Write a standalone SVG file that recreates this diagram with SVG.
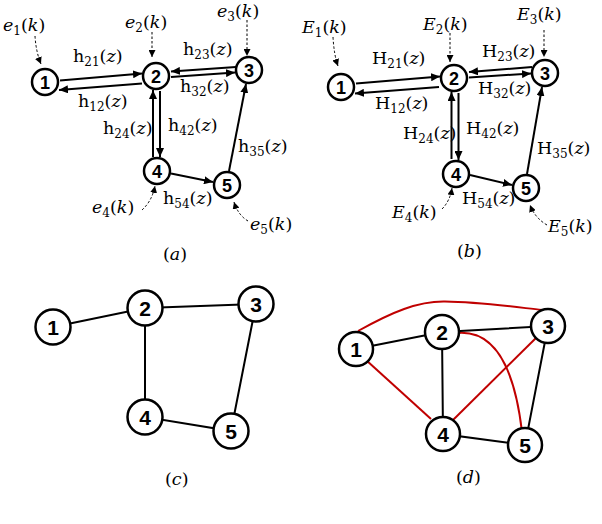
<svg xmlns="http://www.w3.org/2000/svg" width="602" height="524" viewBox="0 0 602 524">
<style>
.bg{fill:#fff}
.n circle{fill:#fff;stroke:#000;stroke-width:2.5}
.n text{font-family:"Liberation Sans",Arial,sans-serif;font-weight:bold;fill:#000;text-anchor:middle}
.sm text{font-size:18px}
.lg text{font-size:21px}
.e{fill:none;stroke:#000;stroke-width:2}
.d{fill:none;stroke:#000;stroke-width:1;stroke-dasharray:2.5,2}
.r{fill:none;stroke:#c00000;stroke-width:2}
.m{font-family:"DejaVu Serif","Liberation Serif",serif;font-size:17.5px;fill:#000}
.i{font-style:italic}
.s{font-size:12px}
</style>
<defs>
<marker id="ah" markerUnits="userSpaceOnUse" markerWidth="10" markerHeight="8" refX="9" refY="4" orient="auto"><path d="M0,0 L9,4 L0,8 Z" fill="#000"/></marker>
<marker id="ad" markerUnits="userSpaceOnUse" markerWidth="8" markerHeight="7" refX="7" refY="3.5" orient="auto"><path d="M0,0 L7,3.5 L0,7 Z" fill="#000"/></marker>
</defs>
<rect class="bg" width="602" height="524"/>

<g id="connectors">
<!-- panel a -->
<path class="e" d="M60,80.5 L142,73.5" marker-end="url(#ah)"/>
<path class="e" d="M142,83.5 L59,90" marker-end="url(#ah)"/>
<path class="e" d="M236,67 L171,71.5" marker-end="url(#ah)"/>
<path class="e" d="M171,77 L235,72.5" marker-end="url(#ah)"/>
<path class="e" d="M160,91 L160,157" marker-end="url(#ah)"/>
<path class="e" d="M153,157 L153,90" marker-end="url(#ah)"/>
<path class="e" d="M171,173.5 L213,182" marker-end="url(#ah)"/>
<path class="e" d="M229,171 L246,84" marker-end="url(#ah)"/>
<path class="d" d="M35,36 Q36,52 41,64" marker-end="url(#ad)"/>
<path class="d" d="M152,32 L152,57" marker-end="url(#ad)"/>
<path class="d" d="M247,20 L247,56" marker-end="url(#ad)"/>
<path class="d" d="M142,210 Q152,201 155,186" marker-end="url(#ad)"/>
<path class="d" d="M248,221 Q238,215 234,202" marker-end="url(#ad)"/>
<!-- panel b -->
<path class="e" d="M356,83.5 L440,76.5" marker-end="url(#ah)"/>
<path class="e" d="M439,87 L355,93.5" marker-end="url(#ah)"/>
<path class="e" d="M532,67 L469,72" marker-end="url(#ah)"/>
<path class="e" d="M469,77.5 L531,73.5" marker-end="url(#ah)"/>
<path class="e" d="M458.5,93 L458.5,160" marker-end="url(#ah)"/>
<path class="e" d="M451.5,159 L451.5,92" marker-end="url(#ah)"/>
<path class="e" d="M470,175 L512,185" marker-end="url(#ah)"/>
<path class="e" d="M527,174 L542,87" marker-end="url(#ah)"/>
<path class="d" d="M333,37 Q334,55 338,66" marker-end="url(#ad)"/>
<path class="d" d="M450,33 L450,62" marker-end="url(#ad)"/>
<path class="d" d="M544,30 L544,57" marker-end="url(#ad)"/>
<path class="d" d="M442,209 Q450,201 452,188" marker-end="url(#ad)"/>
<path class="d" d="M547,225 Q535,218 530,205" marker-end="url(#ad)"/>
<!-- panel c -->
<path class="e" d="M53,327 L145,308 L256,304 L231,431 L145,417 L145,308"/>
<!-- panel d -->
<path class="r" d="M358,331 C392,312 418,301 445,301.5 C480,302 515,307 542,310"/>
<path class="r" d="M366,360 L431,419"/>
<path class="r" d="M539,335 L452,421"/>
<path class="r" d="M458,333 C500,330 516,380 522,432"/>
<path class="e" d="M356,349 L442,332 L548,326 L525,445 L443,434 L442,332"/>
</g>

<g id="a1" class="n sm"><circle cx="45" cy="82" r="13"/><text x="45" y="88.5">1</text></g>
<g id="a2" class="n sm"><circle cx="156" cy="76" r="13"/><text x="156" y="82.5">2</text></g>
<g id="a3" class="n sm"><circle cx="249" cy="70" r="13"/><text x="249" y="76.5">3</text></g>
<g id="a4" class="n sm"><circle cx="157" cy="171" r="13"/><text x="157" y="177.5">4</text></g>
<g id="a5" class="n sm"><circle cx="227" cy="185" r="13"/><text x="227" y="191.5">5</text></g>

<g id="b1" class="n sm"><circle cx="341" cy="87" r="13"/><text x="341" y="93.5">1</text></g>
<g id="b2" class="n sm"><circle cx="454" cy="78" r="13"/><text x="454" y="84.5">2</text></g>
<g id="b3" class="n sm"><circle cx="545" cy="73" r="13"/><text x="545" y="79.5">3</text></g>
<g id="b4" class="n sm"><circle cx="456" cy="174" r="13"/><text x="456" y="180.5">4</text></g>
<g id="b5" class="n sm"><circle cx="526" cy="188" r="13"/><text x="526" y="194.5">5</text></g>

<g id="c1" class="n lg"><circle cx="53" cy="327" r="17.5"/><text x="53" y="334.5">1</text></g>
<g id="c2" class="n lg"><circle cx="145" cy="308" r="17.5"/><text x="145" y="315.5">2</text></g>
<g id="c3" class="n lg"><circle cx="256" cy="304" r="17.5"/><text x="256" y="311.5">3</text></g>
<g id="c4" class="n lg"><circle cx="145" cy="417" r="17.5"/><text x="145" y="424.5">4</text></g>
<g id="c5" class="n lg"><circle cx="231" cy="431" r="17.5"/><text x="231" y="438.5">5</text></g>

<g id="d1" class="n lg"><circle cx="356" cy="349" r="17"/><text x="356" y="356.5">1</text></g>
<g id="d2" class="n lg"><circle cx="442" cy="332" r="17"/><text x="442" y="339.5">2</text></g>
<g id="d3" class="n lg"><circle cx="548" cy="326" r="17"/><text x="548" y="333.5">3</text></g>
<g id="d4" class="n lg"><circle cx="443" cy="434" r="17"/><text x="443" y="441.5">4</text></g>
<g id="d5" class="n lg"><circle cx="525" cy="445" r="17"/><text x="525" y="452.5">5</text></g>

<g id="labels">
<text class="m" x="3" y="31"><tspan class="i">e</tspan><tspan class="s" dy="4">1</tspan><tspan dy="-4">(</tspan><tspan class="i">k</tspan>)</text>
<text class="m" x="125" y="28"><tspan class="i">e</tspan><tspan class="s" dy="4">2</tspan><tspan dy="-4">(</tspan><tspan class="i">k</tspan>)</text>
<text class="m" x="217" y="17"><tspan class="i">e</tspan><tspan class="s" dy="4">3</tspan><tspan dy="-4">(</tspan><tspan class="i">k</tspan>)</text>
<text class="m" x="92" y="213"><tspan class="i">e</tspan><tspan class="s" dy="4">4</tspan><tspan dy="-4">(</tspan><tspan class="i">k</tspan>)</text>
<text class="m" x="250" y="230"><tspan class="i">e</tspan><tspan class="s" dy="4">5</tspan><tspan dy="-4">(</tspan><tspan class="i">k</tspan>)</text>
<text class="m" x="73" y="62">h<tspan class="s" dy="4">21</tspan><tspan dy="-4">(</tspan><tspan class="i">z</tspan>)</text>
<text class="m" x="78" y="107">h<tspan class="s" dy="4">12</tspan><tspan dy="-4">(</tspan><tspan class="i">z</tspan>)</text>
<text class="m" x="183" y="55">h<tspan class="s" dy="4">23</tspan><tspan dy="-4">(</tspan><tspan class="i">z</tspan>)</text>
<text class="m" x="180" y="92">h<tspan class="s" dy="4">32</tspan><tspan dy="-4">(</tspan><tspan class="i">z</tspan>)</text>
<text class="m" x="103" y="134">h<tspan class="s" dy="4">24</tspan><tspan dy="-4">(</tspan><tspan class="i">z</tspan>)</text>
<text class="m" x="168" y="131">h<tspan class="s" dy="4">42</tspan><tspan dy="-4">(</tspan><tspan class="i">z</tspan>)</text>
<text class="m" x="238" y="152">h<tspan class="s" dy="4">35</tspan><tspan dy="-4">(</tspan><tspan class="i">z</tspan>)</text>
<text class="m" x="163" y="204">h<tspan class="s" dy="4">54</tspan><tspan dy="-4">(</tspan><tspan class="i">z</tspan>)</text>
<text class="m" x="163" y="260">(<tspan class="i">a</tspan>)</text>

<text class="m" x="302" y="33"><tspan class="i">E</tspan><tspan class="s" dy="4">1</tspan><tspan dy="-4">(</tspan><tspan class="i">k</tspan>)</text>
<text class="m" x="423" y="30"><tspan class="i">E</tspan><tspan class="s" dy="4">2</tspan><tspan dy="-4">(</tspan><tspan class="i">k</tspan>)</text>
<text class="m" x="517" y="20"><tspan class="i">E</tspan><tspan class="s" dy="4">3</tspan><tspan dy="-4">(</tspan><tspan class="i">k</tspan>)</text>
<text class="m" x="392" y="218"><tspan class="i">E</tspan><tspan class="s" dy="4">4</tspan><tspan dy="-4">(</tspan><tspan class="i">k</tspan>)</text>
<text class="m" x="548" y="232"><tspan class="i">E</tspan><tspan class="s" dy="4">5</tspan><tspan dy="-4">(</tspan><tspan class="i">k</tspan>)</text>
<text class="m" x="372" y="64">H<tspan class="s" dy="4">21</tspan><tspan dy="-4">(</tspan><tspan class="i">z</tspan>)</text>
<text class="m" x="375" y="109">H<tspan class="s" dy="4">12</tspan><tspan dy="-4">(</tspan><tspan class="i">z</tspan>)</text>
<text class="m" x="482" y="57">H<tspan class="s" dy="4">23</tspan><tspan dy="-4">(</tspan><tspan class="i">z</tspan>)</text>
<text class="m" x="478" y="94">H<tspan class="s" dy="4">32</tspan><tspan dy="-4">(</tspan><tspan class="i">z</tspan>)</text>
<text class="m" x="403" y="139">H<tspan class="s" dy="4">24</tspan><tspan dy="-4">(</tspan><tspan class="i">z</tspan>)</text>
<text class="m" x="466" y="134">H<tspan class="s" dy="4">42</tspan><tspan dy="-4">(</tspan><tspan class="i">z</tspan>)</text>
<text class="m" x="537" y="154">H<tspan class="s" dy="4">35</tspan><tspan dy="-4">(</tspan><tspan class="i">z</tspan>)</text>
<text class="m" x="462" y="204">H<tspan class="s" dy="4">54</tspan><tspan dy="-4">(</tspan><tspan class="i">z</tspan>)</text>
<text class="m" x="457" y="257">(<tspan class="i">b</tspan>)</text>

<text class="m" x="165" y="485">(<tspan class="i">c</tspan>)</text>
<text class="m" x="456" y="483">(<tspan class="i">d</tspan>)</text>
</g>
</svg>
